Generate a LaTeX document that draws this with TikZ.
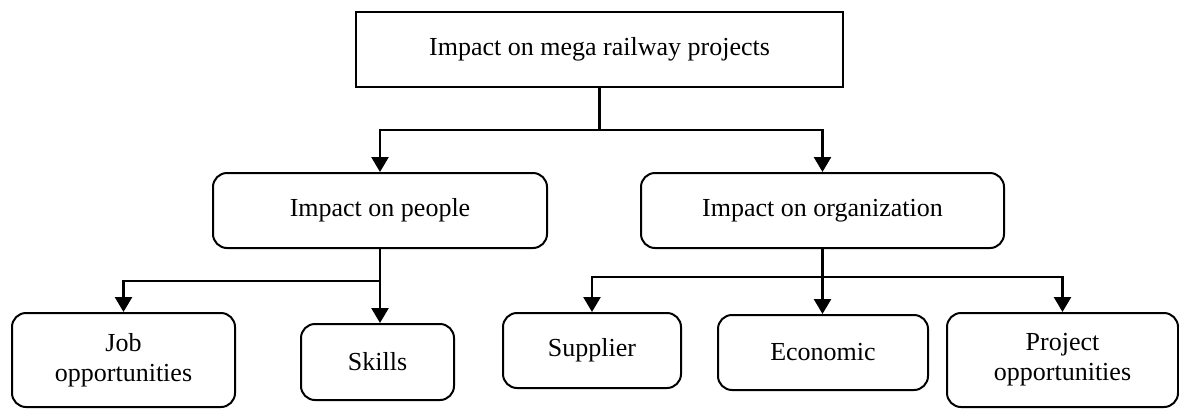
\documentclass[tikz,border=0pt]{standalone}
\usepackage{fontspec}
\setmainfont{Liberation Serif}
\usetikzlibrary{arrows.meta}

\begin{document}
\begin{tikzpicture}[x=0.5pt,y=-0.5pt]
\tikzstyle{box} = [draw, line width=1pt, rounded corners=7pt, align=center, inner sep=0pt, font=\fontsize{13}{15}\selectfont]
\tikzstyle{link} = [line width=1.3pt]
\tikzstyle{arr} = [link, -{Triangle[length=7.5pt,width=8.5pt]}]
\useasboundingbox (0,0) rectangle (1179,408);
%level 1
\node[box, sharp corners, minimum width=243.5pt, minimum height=37.5pt] (mega) at (599.5,49.5) {Impact on mega railway projects};
%level 2
\node[box, minimum width=167pt, minimum height=37.5pt] (people) at (380,210.5) {Impact on people};
\node[box, minimum width=181.5pt, minimum height=37.5pt] (org) at (822.5,210.5) {Impact on organization};
%level 3
\node[box, minimum width=111.5pt, minimum height=47pt] (job) at (123.5,360) {Job\\opportunities};
\node[box, minimum width=76.5pt, minimum height=38pt] (skills) at (377.5,362) {Skills};
\node[box, minimum width=89pt, minimum height=37.5pt] (supplier) at (592,350.5) {Supplier};
\node[box, minimum width=105pt, minimum height=37.5pt] (economic) at (823,352.5) {Economic};
\node[box, minimum width=115.5pt, minimum height=47pt] (project) at (1062.5,360) {Project\\opportunities};

\coordinate (s1) at (mega.south |- 0,130);
\draw[link] (mega.south) -- (s1);
\draw[arr] (s1) -| (people.north);
\draw[arr] (s1) -| (org.north);

\coordinate (s2) at (people.south |- 0,281);
\draw[link] (people.south) -- (s2);
\draw[arr] (s2) -| (job.north);
\draw[arr] (s2) -- (s2 |- skills.north);

\coordinate (s3) at (org.south |- 0,277);
\draw[link] (org.south) -- (s3);
\draw[arr] (s3) -| (supplier.north);
\draw[arr] (s3) -- (s3 |- economic.north);
\draw[arr] (s3) -| (project.north);
\end{tikzpicture}
\end{document}
